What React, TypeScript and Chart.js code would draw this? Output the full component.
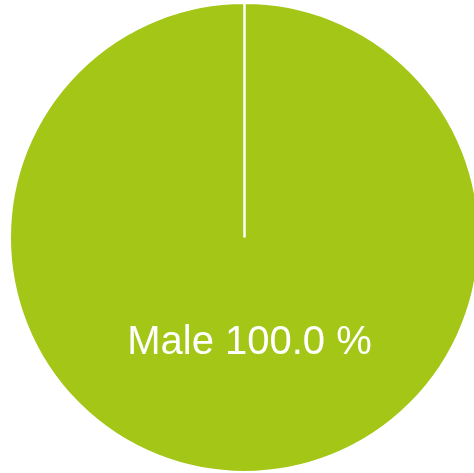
import React, { useEffect, useRef } from "react";
import { Chart, registerables } from "chart.js";

Chart.register(...registerables);

const categories: string[] = ["Male"];
const values: number[] = [100];
const colors: string[] = ["#a3c617"];

const labelPlugin = {
  id: "sliceLabels",
  afterDatasetsDraw(chart: any) {
    const ctx = chart.ctx;
    const meta = chart.getDatasetMeta(0);
    const data = chart.data.datasets[0].data as number[];
    const total = data.reduce((a, b) => a + b, 0);
    meta.data.forEach((arc: any, i: number) => {
      const { x, y, startAngle, endAngle, outerRadius } = arc.getProps(
        ["x", "y", "startAngle", "endAngle", "outerRadius"],
        true
      );
      const mid = (startAngle + endAngle) / 2;
      const r = outerRadius * 0.435;
      const lx = x + Math.cos(mid) * r + 5;
      const ly = y + Math.sin(mid) * r;
      const pct = ((data[i] / total) * 100).toFixed(1);
      ctx.save();
      ctx.fillStyle = "#ffffff";
      ctx.font = "40px 'Liberation Sans', Arial, sans-serif";
      ctx.textAlign = "center";
      ctx.textBaseline = "alphabetic";
      ctx.fillText(`${chart.data.labels[i]} ${pct} %`, lx, ly + 14);
      ctx.restore();
    });
  },
};

export default function App() {
  const ref = useRef<HTMLCanvasElement>(null);
  useEffect(() => {
    document.body.style.margin = "0";
    const chart = new Chart(ref.current!, {
      type: "pie",
      data: {
        labels: categories,
        datasets: [
          {
            data: values,
            backgroundColor: colors,
            borderColor: "#ffffff",
            borderWidth: 2.5,
          },
        ],
      },
      options: {
        responsive: false,
        animation: false,
        layout: { padding: { left: 8.5, top: 1.5, right: 19.5, bottom: 6.5 } },
        plugins: { legend: { display: false }, tooltip: { enabled: false } },
      },
      plugins: [labelPlugin],
    });
    return () => chart.destroy();
  }, []);
  return (
    <div
      style={{
        position: "fixed",
        left: 0,
        top: 0,
        width: 474,
        height: 473,
        overflow: "hidden",
        background: "#ffffff",
      }}
    >
      <canvas ref={ref} width={500} height={480} />
    </div>
  );
}
